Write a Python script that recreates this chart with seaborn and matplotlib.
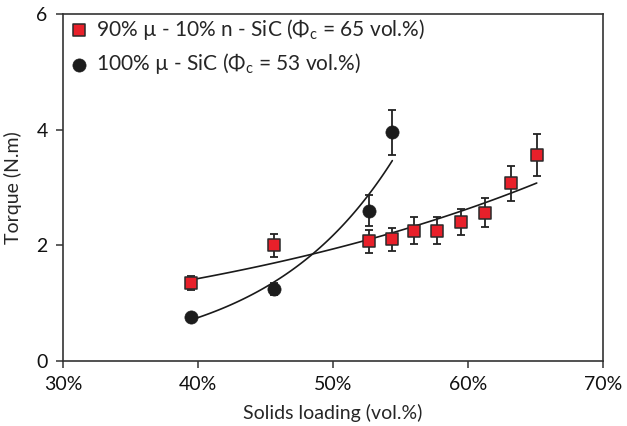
import numpy as np
import pandas as pd
import seaborn as sns
import matplotlib.pyplot as plt

# =========================
# DATA
# =========================
mix_loading = [39.5, 45.6, 52.7, 54.4, 56.0, 57.7, 59.5, 61.3, 63.2, 65.1]
mix_torque = [1.35, 2.00, 2.07, 2.10, 2.25, 2.25, 2.40, 2.56, 3.07, 3.56]
mix_err = [0.12, 0.20, 0.20, 0.20, 0.23, 0.23, 0.23, 0.25, 0.30, 0.36]

micro_loading = [39.5, 45.6, 52.7, 54.4]
micro_torque = [0.76, 1.24, 2.60, 3.95]
micro_err = [0.04, 0.10, 0.26, 0.39]

mix_label = "90% µ - 10% n - SiC (Φ$_\\mathrm{c}$ = 65 vol.%)"
micro_label = "100% µ - SiC (Φ$_\\mathrm{c}$ = 53 vol.%)"

x_ticks = [30, 40, 50, 60, 70]
y_ticks = [0, 2, 4, 6]

mix = pd.DataFrame({'loading': mix_loading, 'torque': mix_torque, 'err': mix_err})
micro = pd.DataFrame({'loading': micro_loading, 'torque': micro_torque, 'err': micro_err})

# =========================
# STYLE
# =========================
sns.set_style('ticks')
plt.rcParams['font.family'] = ['Lato', 'DejaVu Sans']
plt.rcParams['mathtext.fontset'] = 'custom'
plt.rcParams['mathtext.rm'] = 'Lato'
plt.rcParams['font.size'] = 14
plt.rcParams['axes.edgecolor'] = '#333333'
plt.rcParams['axes.linewidth'] = 1.2
plt.rcParams['xtick.color'] = '#333333'
plt.rcParams['ytick.color'] = '#333333'
plt.rcParams['xtick.labelcolor'] = '#111111'
plt.rcParams['ytick.labelcolor'] = '#111111'

fig = plt.figure(figsize=(6.27, 4.26), dpi=100)
ax = fig.add_axes([0.1005, 0.1526, 0.861, 0.815])

# =========================
# EXPONENTIAL TREND LINES
# =========================
def exp_fit(df):
    b, a = np.polyfit(df['loading'], np.log(df['torque']), 1)
    xs = np.linspace(df['loading'].min(), df['loading'].max(), 100)
    return pd.DataFrame({'loading': xs, 'torque': np.exp(a + b * xs)})

for df in (mix, micro):
    fit = exp_fit(df)
    sns.lineplot(data=fit, x='loading', y='torque', color='#1a1a1a', lw=1.2, ax=ax, zorder=2)

# =========================
# ERROR BARS + POINTS
# =========================
for df in (mix, micro):
    ax.errorbar(df['loading'], df['torque'], yerr=df['err'], fmt='none',
                ecolor='#222222', elinewidth=1.3, capsize=3, capthick=1.3, zorder=3)

sns.scatterplot(data=mix, x='loading', y='torque', marker='s', s=80,
                color='#e8202a', edgecolor='#2a2a2a', linewidth=1.1,
                label=mix_label, ax=ax, zorder=4)
sns.scatterplot(data=micro, x='loading', y='torque', marker='o', s=90,
                color='#1c1c1c', edgecolor='#1c1c1c', linewidth=0.5,
                label=micro_label, ax=ax, zorder=4)

# =========================
# AXES
# =========================
ax.set_xlim(30, 70)
ax.set_ylim(0, 6)
ax.set_xticks(x_ticks)
ax.set_xticklabels([f'{t}%' for t in x_ticks])
ax.set_yticks(y_ticks)
ax.tick_params(direction='out', length=5, width=1.1, pad=6, labelsize=14)
ax.set_xlabel('Solids loading (vol.%)', fontsize=14, labelpad=8)
ax.set_ylabel('Torque (N.m)', fontsize=14, labelpad=10)

ax.legend(loc='upper left', frameon=False, fontsize=15, labelspacing=0.45,
          handletextpad=0.25, borderaxespad=0.0, handlelength=1.2,
          borderpad=0.15)

fig.savefig('out.png', dpi=100)
